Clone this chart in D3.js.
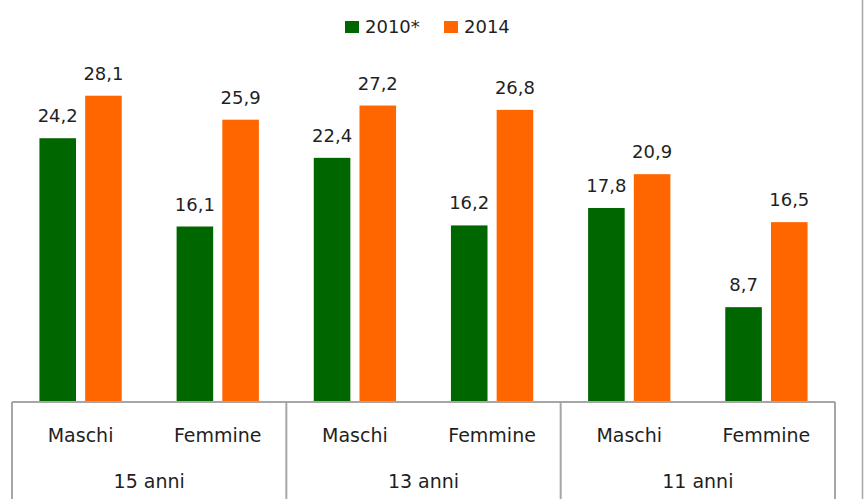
<!DOCTYPE html>
<html>
<head>
<meta charset="utf-8">
<script src="https://cdn.jsdelivr.net/npm/d3@7"></script>
<style>
  html, body { margin: 0; padding: 0; background: #fff; }
  svg { display: block; }
  text { font-family: "DejaVu Sans", sans-serif; fill: #1f1f1f; }
</style>
</head>
<body>
<svg id="chart" width="864" height="499"></svg>
<script>
const ageGroups = ["15 anni", "13 anni", "11 anni"];
const genders = ["Maschi", "Femmine"];
const seriesNames = ["2010*", "2014"];
const values2010 = [24.2, 16.1, 22.4, 16.2, 17.8, 8.7];
const values2014 = [28.1, 25.9, 27.2, 26.8, 20.9, 16.5];
const seriesColors = ["#006600", "#ff6600"];

const svg = d3.select("#chart");
const W = 864, H = 499;
const left = 12, right = 835, baseY = 402, topY = 75;

const y = d3.scaleLinear().domain([0, 30]).range([baseY, topY]);
const xGroup = d3.scaleBand().domain(ageGroups).range([left, right]).padding(0);
const xGender = d3.scaleBand().domain(genders).range([0, xGroup.bandwidth()]).padding(0);
const xSeries = d3.scaleBand().domain(seriesNames).range([0, xGender.bandwidth()])
  .paddingInner(0.2).paddingOuter(0.6);

const fmt = v => d3.format(".1f")(v).replace(".", ",");

const rows = [];
ageGroups.forEach((g, gi) => {
  genders.forEach((s, si) => {
    const idx = gi * genders.length + si;
    rows.push({ group: g, gender: s, series: seriesNames[0], value: values2010[idx], color: seriesColors[0] });
    rows.push({ group: g, gender: s, series: seriesNames[1], value: values2014[idx], color: seriesColors[1] });
  });
});

const bx = d => xGroup(d.group) + xGender(d.gender) + xSeries(d.series);

svg.append("g").selectAll("rect").data(rows).join("rect")
  .attr("x", bx)
  .attr("y", d => y(d.value))
  .attr("width", xSeries.bandwidth())
  .attr("height", d => y(0) - y(d.value))
  .attr("fill", d => d.color);

svg.append("g").selectAll("text").data(rows).join("text")
  .attr("x", d => bx(d) + xSeries.bandwidth() / 2)
  .attr("y", d => y(d.value) - 16)
  .attr("text-anchor", "middle")
  .style("font-size", "18px")
  .text(d => fmt(d.value));

// axis lines
const lineColor = "#a6a6a6";
svg.append("line").attr("x1", left).attr("x2", right).attr("y1", baseY).attr("y2", baseY)
  .attr("stroke", lineColor).attr("stroke-width", 2);
const seps = ageGroups.map(g => xGroup(g)).concat([right]);
svg.append("g").selectAll("line").data(seps).join("line")
  .attr("x1", d => d).attr("x2", d => d)
  .attr("y1", baseY).attr("y2", H)
  .attr("stroke", lineColor).attr("stroke-width", 2);

// gender labels
const gl = [];
ageGroups.forEach(g => genders.forEach(s => gl.push({ group: g, gender: s })));
svg.append("g").selectAll("text").data(gl).join("text")
  .attr("x", d => xGroup(d.group) + xGender(d.gender) + xGender.bandwidth() / 2)
  .attr("y", 441.5)
  .attr("text-anchor", "middle")
  .style("font-size", "19px")
  .text(d => d.gender);

svg.append("g").selectAll("text").data(ageGroups).join("text")
  .attr("x", d => xGroup(d) + xGroup.bandwidth() / 2)
  .attr("y", 488)
  .attr("text-anchor", "middle")
  .style("font-size", "19px")
  .text(d => d);

// chart frame right edge
svg.append("line").attr("x1", 862.5).attr("x2", 862.5).attr("y1", 0).attr("y2", H)
  .attr("stroke", lineColor).attr("stroke-width", 1.5);

// legend
const legendX = [345, 444];
const lg = svg.append("g").selectAll("g").data(seriesNames).join("g")
  .attr("transform", (d, i) => `translate(${legendX[i]},0)`);
lg.append("rect").attr("x", 0).attr("y", 21).attr("width", 14).attr("height", 12)
  .attr("fill", (d, i) => seriesColors[i]);
lg.append("text").attr("x", 20).attr("y", 33).style("font-size", "18px").text(d => d);
</script>
</body>
</html>
